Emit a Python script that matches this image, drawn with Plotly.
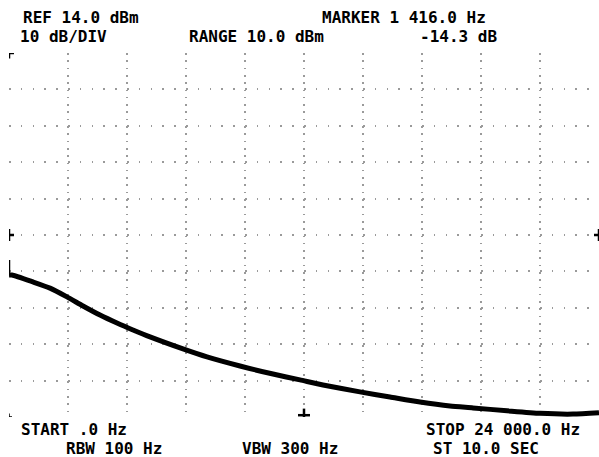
import plotly.graph_objects as go

freq_hz = [0, 0, 122, 976, 1668, 2359, 3010, 3702, 4393, 5044, 5736, 7078, 8054, 9397,
           10739, 11837, 12773, 14278, 15498, 16719, 17939, 18875, 20258, 21600, 22942, 24000]
level_dbm = [-42.9, -47.0, -47.0, -48.9, -50.6, -53.0, -55.5, -58.0, -60.2, -62.1, -64.0, -67.3,
             -69.5, -72.0, -74.2, -75.8, -77.2, -79.1, -80.5, -81.9, -83.0, -83.5, -84.3,
             -85.0, -85.2, -84.8]

ref_level = 14.0        # dBm, top of screen
db_per_div = 10.0
n_ydiv = 10
start_hz = 0.0
stop_hz = 24000.0
n_xdiv = 10
left_marker_level = -36.0   # reference marker on the left/right edges
bottom_marker_hz = 12000.0  # marker on the bottom edge

top_texts = [("REF 14.0 dBm", 81, 18), ("MARKER 1 416.0 Hz", 404, 18),
             ("10 dB/DIV", 63, 37), ("RANGE 10.0 dBm", 256, 37), ("-14.3 dB", 458, 37)]
bottom_texts = [("START .0 Hz", 74, 429), ("STOP 24 000.0 Hz", 503, 429),
                ("RBW 100 Hz", 114, 448.5), ("VBW 300 Hz", 290, 448.5), ("ST 10.0 SEC", 486, 448.5)]

W, H = 599, 457
ML, MR, MT, MB = 9, 0, 53, 40
PW, PH = W - ML - MR, H - MT - MB
bottom_level = ref_level - db_per_div * n_ydiv

fig = go.Figure()
fig.add_trace(go.Scatter(x=freq_hz[:2], y=level_dbm[:2], mode="lines",
                         line=dict(color="black", width=2.5),
                         hoverinfo="skip", showlegend=False))
fig.add_trace(go.Scatter(x=freq_hz[1:], y=level_dbm[1:], mode="lines",
                         line=dict(color="black", width=5, shape="spline", smoothing=0.6),
                         hoverinfo="skip", showlegend=False))

FONT = dict(family="DejaVu Sans Mono", size=16, color="black", weight="bold")
for txt, cx, cy in top_texts + bottom_texts:
    fig.add_annotation(text=txt, x=(cx - ML) / PW, y=(H - MB - cy) / PH, xref="paper", yref="paper",
                       xanchor="center", yanchor="middle", showarrow=False, font=FONT,
                       borderpad=0)

# edge markers
mk = dict(color="black", width=2.5)
span_x = stop_hz - start_hz
span_y = ref_level - bottom_level
dx = span_x * 5 / PW
dy = span_y * 6 / PH
shapes = [
    # top-left corner
    dict(type="line", x0=start_hz, x1=start_hz, y0=ref_level, y1=ref_level - dy * 0.9, line=mk),
    dict(type="line", x0=start_hz, x1=start_hz + dx, y0=ref_level, y1=ref_level, line=mk),
    # bottom-left corner
    dict(type="line", x0=start_hz, x1=start_hz, y0=bottom_level, y1=bottom_level + dy * 0.6, line=dict(color="black", width=1.5)),
    dict(type="line", x0=start_hz, x1=start_hz + dx * 0.6, y0=bottom_level, y1=bottom_level, line=dict(color="black", width=1.5)),
    # left reference marker
    dict(type="line", x0=start_hz, x1=start_hz, y0=left_marker_level - dy, y1=left_marker_level + dy, line=mk),
    dict(type="line", x0=start_hz, x1=start_hz + dx, y0=left_marker_level, y1=left_marker_level, line=mk),
    # right reference marker
    dict(type="line", x0=stop_hz, x1=stop_hz, y0=left_marker_level - dy, y1=left_marker_level + dy, line=mk),
    dict(type="line", x0=stop_hz - dx, x1=stop_hz, y0=left_marker_level, y1=left_marker_level, line=mk),
    # bottom marker
    dict(type="line", x0=bottom_marker_hz, x1=bottom_marker_hz, y0=bottom_level, y1=bottom_level + dy * 1.4, line=mk),
    dict(type="line", x0=bottom_marker_hz - dx * 1.2, x1=bottom_marker_hz + dx * 1.2,
         y0=bottom_level + dy * 0.3, y1=bottom_level + dy * 0.3, line=mk),
]
for s in shapes:
    s.update(xref="x", yref="y", layer="above")
fig.update_layout(shapes=shapes)

fig.update_layout(
    width=W, height=H,
    margin=dict(l=ML, r=MR, t=MT, b=MB),
    paper_bgcolor="white", plot_bgcolor="white",
    xaxis=dict(range=[start_hz, stop_hz], tick0=start_hz, dtick=(stop_hz - start_hz) / n_xdiv,
               showticklabels=False, ticks="", showline=False, zeroline=False,
               showgrid=True, gridcolor="#9a9a9a", gridwidth=1.6, griddash="1.6px,5.7px",
               fixedrange=True),
    yaxis=dict(range=[bottom_level, ref_level], tick0=bottom_level, dtick=db_per_div,
               showticklabels=False, ticks="", showline=False, zeroline=False,
               showgrid=True, gridcolor="#9a9a9a", gridwidth=1.6, griddash="1.6px,10.2px",
               fixedrange=True),
    showlegend=False,
)

fig.write_html("out.html", config={"displayModeBar": False})
